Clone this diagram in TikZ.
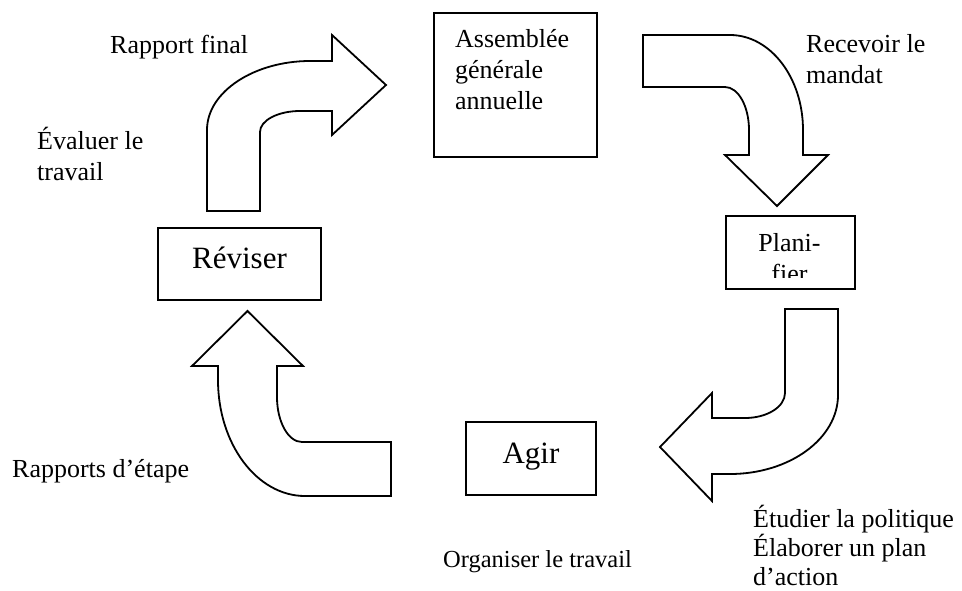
\documentclass[tikz,border=0pt]{standalone}
\usepackage{fontspec}
\setmainfont{Liberation Serif}
\tikzset{
  blockarrow/.style={draw=black, line width=1.8pt, fill=white, line join=miter},
  box/.style={draw=black, line width=1.8pt, fill=white, inner sep=0pt},
  lbl/.style={font=\fontsize{26}{31}\selectfont, inner sep=0pt, anchor=base west, align=left},
  big/.style={font=\fontsize{31}{36}\selectfont},
}
\begin{document}
\begin{tikzpicture}[x=1pt, y=-1pt]
\fill[white] (0,0) rectangle (962,590);
\useasboundingbox (0,0) rectangle (962,590);

% boxes
\node[box, anchor=north west, minimum width=163pt, minimum height=144pt] (ag) at (433,12) {};
\node[lbl] (agt) at (455,109) {Assemblée\\générale\\annuelle};

\node[box, anchor=north west, minimum width=129pt, minimum height=73pt] (plan) at (725,215) {};
\begin{scope}
  \clip (725,215) rectangle (854,277);
  \node[font=\fontsize{26}{31}\selectfont, inner sep=0pt, anchor=base, align=center] (plant) at (789.5,282) {Plani-\\fier};
\end{scope}

\node[box, big, minimum width=163pt, minimum height=72pt, text height=14pt, text depth=6pt] (rev) at (239.5,264) {Réviser};
\node[box, big, minimum width=130pt, minimum height=73pt, text height=15pt, text depth=6pt] (agir) at (531,458.5) {Agir};

% block arrows
\draw[blockarrow] (207,211) -- (207,130) .. controls (207,91.4) and (254.8,61) .. (310,61)
  -- (332,61) -- (332,35) -- (386,85) -- (332,135) -- (332,111) -- (300,111)
  .. controls (277.9,111) and (260,120.4) .. (260,132) -- (260,211) -- cycle;

\draw[blockarrow] (643,35) -- (730,35) .. controls (770.3,35) and (803,77.6) .. (803,130)
  -- (803,155) -- (828,155) -- (777,206) -- (725,155) -- (749,155) -- (749,130)
  .. controls (749,106.3) and (738.2,87) .. (725,87) -- (643,87) -- cycle;

\draw[blockarrow] (785,309) -- (838,309) -- (838,395) .. controls (838,438.6) and (789.6,474) .. (730,474)
  -- (712,474) -- (712,501) -- (660,447) -- (712,393) -- (712,418) -- (745,418)
  .. controls (767.1,418) and (785,406.8) .. (785,393) -- cycle;

\draw[blockarrow] (391,442) -- (302,442) .. controls (288.2,442) and (277,421.8) .. (277,397)
  -- (277,366) -- (303,366) -- (247.5,311) -- (192,366) -- (218,366) -- (218,380)
  .. controls (218,444) and (257,496) .. (305,496) -- (391,496) -- cycle;

% labels
\node[lbl] (rf) at (110,53) {Rapport final};
\node[lbl] (ev) at (37,180) {Évaluer le\\travail};
\node[lbl] (rm) at (806,83) {Recevoir le\\mandat};
\node[lbl] (re) at (12,477) {Rapports d’étape};
\node[lbl, font=\fontsize{24.5}{29}\selectfont] (ot) at (443,567) {Organiser le travail};
\node[lbl, font=\fontsize{26}{29}\selectfont] (ep) at (753,585) {Étudier la politique\\Élaborer un plan\\d’action};
\end{tikzpicture}
\end{document}
